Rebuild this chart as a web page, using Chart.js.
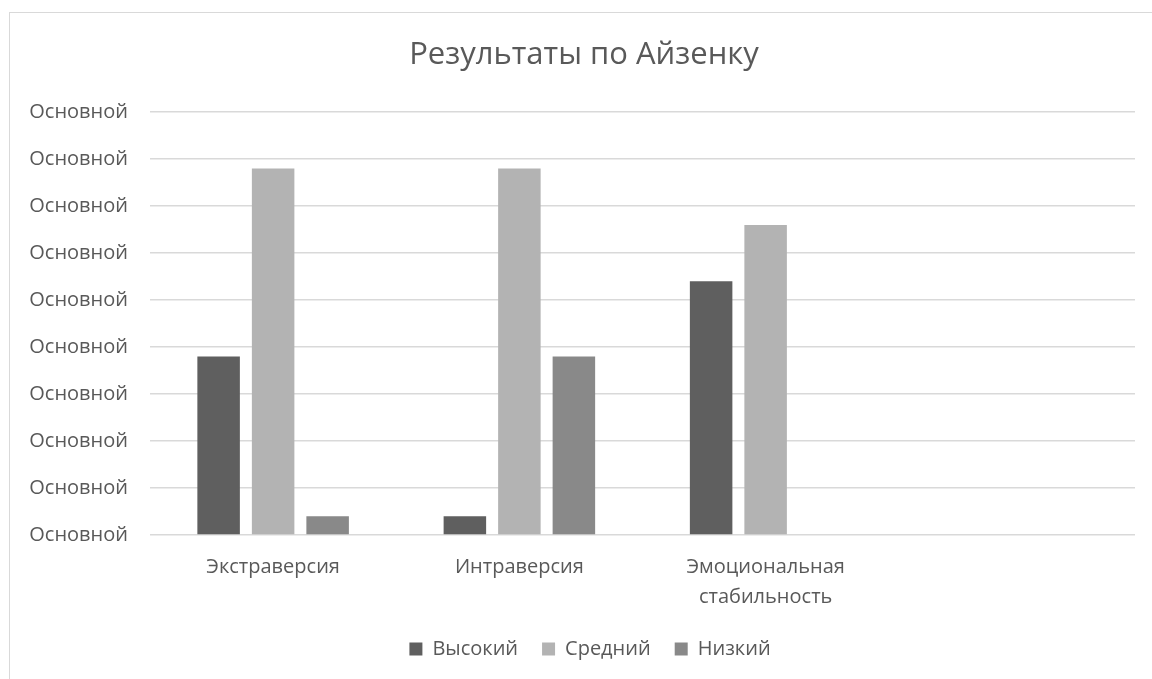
<!DOCTYPE html>
<html lang="ru">
<head>
<meta charset="utf-8">
<title>Результаты по Айзенку</title>
<script src="https://cdn.jsdelivr.net/npm/chart.js@4.4.0/dist/chart.umd.min.js"></script>
<style>
	html, body { margin: 0; padding: 0; background: #fff; overflow: hidden; }
	#frame {
		position: absolute; left: 9px; top: 12px;
		border-left: 1px solid #d9d9d9; border-top: 1px solid #d9d9d9;
	}
	#box { position: relative; width: 1160px; height: 666px; }
</style>
</head>
<body>
<div id="frame"><div id="box"><canvas id="eysenck-chart"></canvas></div></div>
<script>
	// категории (последняя пустая — свободное место справа)
	const categories = ['Экстраверсия', 'Интраверсия', ['Эмоциональная', 'стабильность'], ''];
	const highValues = [3.8, 0.4, 5.4, null];
	const midValues = [7.8, 7.8, 6.6, null];
	const lowValues = [0.4, 3.8, 0, null];
	const tickLabel = 'Основной';

	const textColor = '#595959';
	const fontFamily = '"Open Sans", "Noto Sans", sans-serif';

	// заголовок и легенда центрируются по всей рамке, а не по области с осью
	const recenter = {
		id: 'recenter',
		afterLayout(c) {
			c.titleBlock.left += 6;
			c.legend.left += 18;
		},
	};

	const ctx = document.getElementById('eysenck-chart');
	const chart = new Chart(ctx, {
		type: 'bar',
		data: {
			labels: categories,
			datasets: [
				{ label: 'Высокий', data: highValues, backgroundColor: '#5f5f5f' },
				{ label: 'Средний', data: midValues, backgroundColor: '#b3b3b3' },
				{ label: 'Низкий', data: lowValues, backgroundColor: '#898989' },
			],
		},
		options: {
			responsive: true,
			maintainAspectRatio: false,
			animation: false,
			layout: { padding: { left: 17, right: 35, top: 0, bottom: 10 } },
			datasets: {
				bar: { categoryPercentage: 0.664, barPercentage: 0.78, borderWidth: 0 },
			},
			scales: {
				x: {
					afterFit: function(scale) { scale.height = 80; },
					grid: { display: false },
					border: { display: false },
					ticks: {
						color: textColor,
						font: { family: fontFamily, size: 20, lineHeight: 1.5 },
						padding: 9,
						maxRotation: 0,
						autoSkip: false,
					},
				},
				y: {
					min: 0,
					max: 9,
					afterFit: function(scale) { scale.width = 123; },
					grid: { color: '#d9d9d9', lineWidth: 1.5, drawTicks: false },
					border: { display: false },
					ticks: {
						stepSize: 1,
						color: textColor,
						font: { family: fontFamily, size: 20 },
						padding: 22,
						callback: () => tickLabel,
					},
				},
			},
			plugins: {
				title: {
					display: true,
					text: 'Результаты по Айзенку',
					color: textColor,
					font: { family: fontFamily, size: 31, weight: 'normal' },
					padding: { top: 24, bottom: 38 },
				},
				legend: {
					position: 'bottom',
					labels: {
						color: textColor,
						font: { family: fontFamily, size: 20 },
						boxWidth: 13,
						boxHeight: 13,
						padding: 24,
					},
				},
				tooltip: { enabled: false },
			},
		},
		plugins: [recenter],
	});
</script>
</body>
</html>
